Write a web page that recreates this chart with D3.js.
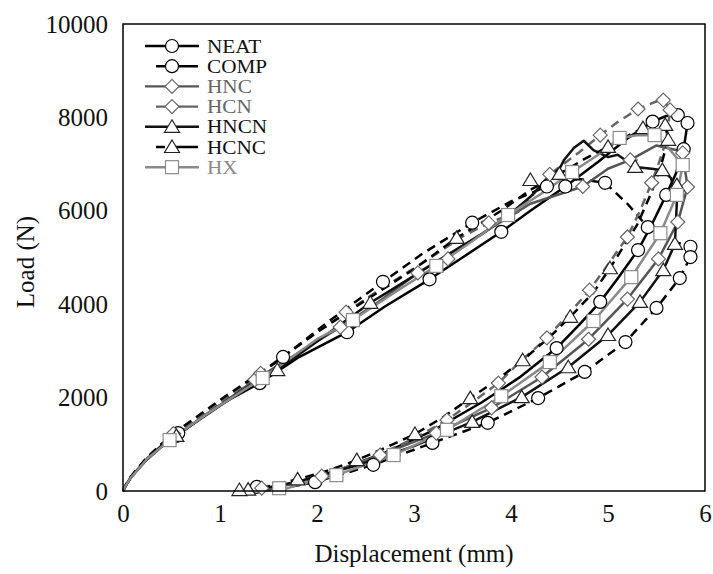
<!DOCTYPE html>
<html><head><meta charset="utf-8">
<script src="https://cdn.jsdelivr.net/npm/d3@7"></script>
<style>body{margin:0;background:#fff}svg{display:block}</style>
</head><body><svg id="c" width="713" height="574"></svg>
<script>
// ---- data (displacement mm, load N) ----
const seriesNames = ["NEAT","COMP","HNC","HCN","HNCN","HCNC","HX"];
const xTicks = [0,1,2,3,4,5,6];
const yTicks = [0,2000,4000,6000,8000,10000];

const neatPath = [[0,0],[0.03,120],[0.08,280],[0.15,450],[0.25,680],[0.4,950],[0.55,1180],[0.8,1560],[1.1,1960],[1.41,2310],[1.8,2850],[2.31,3400],[2.7,3950],[3.16,4533],[3.5,5000],[3.9,5550],[4.2,6000],[4.56,6520],[4.9,7050],[5.2,7550],[5.46,7910],[5.6,8030],[5.72,8050],[5.82,7880],[5.8,7600],[5.78,7320],[5.7,6800],[5.6,6340],[5.45,5700],[5.31,5160],[5.1,4550],[4.92,4050],[4.7,3550],[4.47,3060],[4.1,2450],[3.7,1900],[3.2,1300],[2.7,820],[2.2,430],[1.8,190],[1.45,40],[1.35,0]];
const neatMarks = [[0.55,1180],[1.41,2310],[2.31,3400],[3.16,4533],[3.9,5550],[4.56,6520],[5.46,7910],[5.72,8050],[5.82,7880],[5.78,7320],[5.6,6340],[5.31,5160],[4.92,4050],[4.47,3060]];

const compPath = [[0,0],[0.03,130],[0.08,300],[0.15,480],[0.25,720],[0.4,1000],[0.57,1240],[0.9,1720],[1.25,2250],[1.65,2870],[2.1,3600],[2.68,4480],[3.1,5100],[3.6,5745],[4.0,6200],[4.37,6520],[4.7,6680],[4.97,6600],[5.2,6150],[5.41,5650],[5.6,5400],[5.85,5230],[5.85,5010],[5.74,4560],[5.5,3920],[5.18,3190],[4.76,2550],[4.28,1990],[3.76,1460],[3.19,1030],[2.58,560],[1.98,190],[1.6,40],[1.38,0]];
const compMarks = [[0.57,1240],[1.65,2870],[2.68,4480],[3.6,5745],[4.37,6520],[4.97,6600],[5.41,5650],[5.85,5230],[5.85,5010],[5.74,4560],[5.5,3920],[5.18,3190],[4.76,2550],[4.28,1990],[3.76,1460],[3.19,1030],[2.58,560],[1.98,190],[1.38,90]];

const hncPath = [[0,0],[0.03,120],[0.08,290],[0.15,460],[0.25,700],[0.4,980],[0.5,1130],[0.9,1680],[1.36,2380],[1.8,2950],[2.24,3510],[2.6,4000],[3.04,4670],[3.5,5250],[3.77,5600],[4.2,6150],[4.74,6520],[5.0,6900],[5.23,7090],[5.5,7400],[5.7,7300],[5.77,7240],[5.82,6510],[5.72,5760],[5.52,4970],[5.2,4110],[4.8,3250],[4.32,2440],[3.8,1780],[3.23,1240],[2.65,770],[2.05,320],[1.6,80],[1.43,0]];
const hncMarks = [[0.5,1130],[1.36,2380],[2.24,3510],[3.04,4670],[4.74,6520],[5.23,7090],[5.77,7240],[5.82,6510],[5.72,5760],[5.52,4970],[5.2,4110],[4.8,3250],[4.32,2440],[3.8,1780],[3.23,1240],[2.65,770],[2.05,320],[1.43,60]];

const hcnPath = [[0,0],[0.03,130],[0.08,300],[0.15,480],[0.25,720],[0.5,1200],[1.0,1900],[1.4,2500],[2.0,3400],[2.6,4250],[3.1,4900],[3.5,5450],[3.77,5740],[4.09,5990],[4.4,6780],[4.7,7250],[4.92,7620],[5.1,7900],[5.31,8180],[5.45,8300],[5.57,8400],[5.64,8160],[5.6,7500],[5.52,7000],[5.45,6600],[5.33,6000],[5.2,5440],[5.0,4850],[4.81,4300],[4.6,3800],[4.37,3280],[4.1,2780],[3.87,2310],[3.6,1900],[3.34,1520],[3.0,1120],[2.5,650],[2.0,300],[1.6,90],[1.4,0]];
const hcnMarks = [[0.52,1230],[1.42,2520],[2.3,3830],[3.35,4970],[3.77,5740],[4.4,6780],[4.92,7620],[5.31,8180],[5.57,8370],[5.64,8160],[5.45,6600],[5.2,5440],[4.81,4300],[4.37,3280],[3.87,2310],[3.34,1520]];

const hncnPath = [[0,0],[0.03,120],[0.08,290],[0.15,460],[0.25,690],[0.4,970],[0.55,1180],[0.9,1700],[1.3,2250],[1.59,2590],[2.0,3200],[2.55,4030],[2.8,4350],[3.3,5000],[3.7,5500],[4.0,5950],[4.2,6300],[4.4,6750],[4.5,6900],[4.55,7100],[4.65,7350],[4.75,7500],[4.85,7300],[5.0,7150],[5.1,7200],[5.28,6940],[5.45,6900],[5.56,6870],[5.65,6700],[5.71,6200],[5.69,5290],[5.57,4730],[5.33,4050],[5.0,3340],[4.59,2650],[4.11,2010],[3.6,1480],[3.0,960],[2.4,540],[1.8,200],[1.4,40],[1.29,0]];
const hncnMarks = [[0.55,1180],[1.59,2590],[2.55,4030],[4.2,6660],[5.28,6940],[5.56,6870],[5.71,6550],[5.69,5290],[5.57,4730],[5.33,4050],[5.0,3340],[4.59,2650],[4.11,2010],[3.6,1480],[1.29,30]];

const hcncPath = [[0,0],[0.03,130],[0.08,300],[0.15,480],[0.25,720],[0.5,1200],[1.0,1950],[1.5,2650],[2.0,3400],[2.55,4150],[3.0,4750],[3.44,5420],[3.9,6000],[4.2,6450],[4.5,6790],[4.75,7100],[5.0,7370],[5.2,7600],[5.36,7770],[5.5,7850],[5.59,7840],[5.62,7520],[5.55,7000],[5.45,6400],[5.3,5700],[5.02,4770],[4.85,4250],[4.61,3730],[4.4,3300],[4.12,2800],[3.85,2370],[3.58,1990],[3.3,1580],[3.01,1220],[2.7,920],[2.41,660],[2.1,430],[1.8,250],[1.5,100],[1.2,0]];
const hcncMarks = [[3.44,5420],[4.5,6790],[5.0,7370],[5.36,7770],[5.59,7840],[5.62,7520],[5.02,4770],[4.61,3730],[4.12,2800],[3.58,1990],[3.01,1220],[2.41,660],[1.8,250],[1.2,20]];

const hxPath = [[0,0],[0.03,120],[0.08,280],[0.15,450],[0.25,690],[0.48,1090],[0.9,1700],[1.44,2420],[2.0,3250],[2.37,3660],[2.8,4250],[3.23,4820],[3.6,5350],[3.97,5910],[4.3,6350],[4.63,6830],[4.9,7200],[5.12,7560],[5.3,7620],[5.48,7620],[5.6,7400],[5.77,6980],[5.71,6340],[5.54,5520],[5.24,4580],[4.85,3640],[4.4,2760],[3.9,2030],[3.34,1310],[2.79,770],[2.2,340],[1.8,130],[1.61,0]];
const hxMarks = [[0.48,1090],[1.44,2420],[2.37,3660],[3.23,4820],[3.97,5910],[4.63,6830],[5.12,7560],[5.48,7620],[5.77,6980],[5.71,6340],[5.54,5520],[5.24,4580],[4.85,3640],[4.4,2760],[3.9,2030],[3.34,1310],[2.79,770],[2.2,340],[1.61,60]];

const paths = [neatPath, compPath, hncPath, hcnPath, hncnPath, hcncPath, hxPath];
const marks = [neatMarks, compMarks, hncMarks, hcnMarks, hncnMarks, hcncMarks, hxMarks];

// ---- styles ----
const FONT = "'Liberation Serif', 'Times New Roman', Tinos, 'DejaVu Serif', serif";
const lineColor = ["#000","#000","#555","#666","#111","#000","#8a8a8a"];
const markStroke = ["#000","#000","#666","#666","#222","#222","#8a8a8a"];
const textColor = ["#111","#111","#666","#666","#111","#111","#8a8a8a"];
const dashed = [false,true,false,true,false,true,false];
const shape = ["circle","circle","diamond","diamond","triangle","triangle","square"];

const svg = d3.select("#c");
const X = d3.scaleLinear().domain([0,6]).range([123,705]);
const Y = d3.scaleLinear().domain([0,10000]).range([491,24]);

function drawMark(g, s, cx, cy, stroke){
  let el;
  if(s==="circle") el = g.append("circle").attr("cx",cx).attr("cy",cy).attr("r",6.5);
  else if(s==="square") el = g.append("rect").attr("x",cx-6.5).attr("y",cy-6.5).attr("width",13).attr("height",13);
  else if(s==="diamond") el = g.append("path").attr("d",`M${cx},${cy-7}L${cx+7},${cy}L${cx},${cy+7}L${cx-7},${cy}Z`);
  else el = g.append("path").attr("d",`M${cx},${cy-7}L${cx+7.5},${cy+5.5}L${cx-7.5},${cy+5.5}Z`);
  el.attr("fill","#fff").attr("stroke",stroke).attr("stroke-width",1.2);
}

// axes
const xAxis = d3.axisBottom(X).tickValues(xTicks).tickSize(0).tickPadding(13).tickFormat(d3.format("d"));
const yAxis = d3.axisLeft(Y).tickValues(yTicks).tickSize(0).tickPadding(15).tickFormat(d3.format("d"));
const gx = svg.append("g").attr("transform","translate(0,491)").call(xAxis);
const gy = svg.append("g").attr("transform","translate(123,0)").call(yAxis);
[gx,gy].forEach(g=>{
  g.attr("font-family",null).attr("font-size",null);
  g.select(".domain").remove();
  g.selectAll("text").attr("fill","#111").style("font-family",FONT).style("font-size","25px").style("font-weight","normal");
});

// lines
const line = d3.line().x(d=>X(d[0])).y(d=>Y(d[1]));
const plot = svg.append("g");
paths.forEach((p,i)=>{
  plot.append("path").attr("d",line(p)).attr("fill","none").attr("stroke",lineColor[i])
    .attr("stroke-width",2.5).attr("stroke-linejoin","round")
    .attr("stroke-dasharray",dashed[i]?"9,6":null);
});
marks.forEach((m,i)=>{
  const g = plot.append("g");
  m.forEach(d=>drawMark(g, shape[i], X(d[0]), Y(d[1]), markStroke[i]));
});

// frame
svg.append("rect").attr("x",123).attr("y",24).attr("width",582).attr("height",467)
  .attr("fill","none").attr("stroke","#000").attr("stroke-width",1.5);

// axis titles
svg.append("text").attr("x",414).attr("y",562).attr("text-anchor","middle").attr("fill","#111")
  .style("font-family",FONT).style("font-size","25px").text("Displacement (mm)");
svg.append("text").attr("transform","translate(34,262) rotate(-90)").attr("text-anchor","middle").attr("fill","#111")
  .style("font-family",FONT).style("font-size","25px").text("Load (N)");

// legend
const leg = svg.append("g");
seriesNames.forEach((n,i)=>{
  const y = 46 + i*20.2;
  const l = leg.append("line").attr("y1",y).attr("y2",y).attr("stroke",lineColor[i]).attr("stroke-width",2.4);
  if(dashed[i]) l.attr("x1",156).attr("x2",198).attr("stroke-dasharray","9,5,30");
  else l.attr("x1",145).attr("x2",199);
  const g = leg.append("g");
  drawMark(g, shape[i], 172, y, markStroke[i]);
  leg.append("text").attr("transform",`translate(207,${y+6.5}) scale(1.18,1)`).attr("fill",textColor[i])
    .style("font-family",FONT).style("font-size","18px").text(n);
});
</script></body></html>
